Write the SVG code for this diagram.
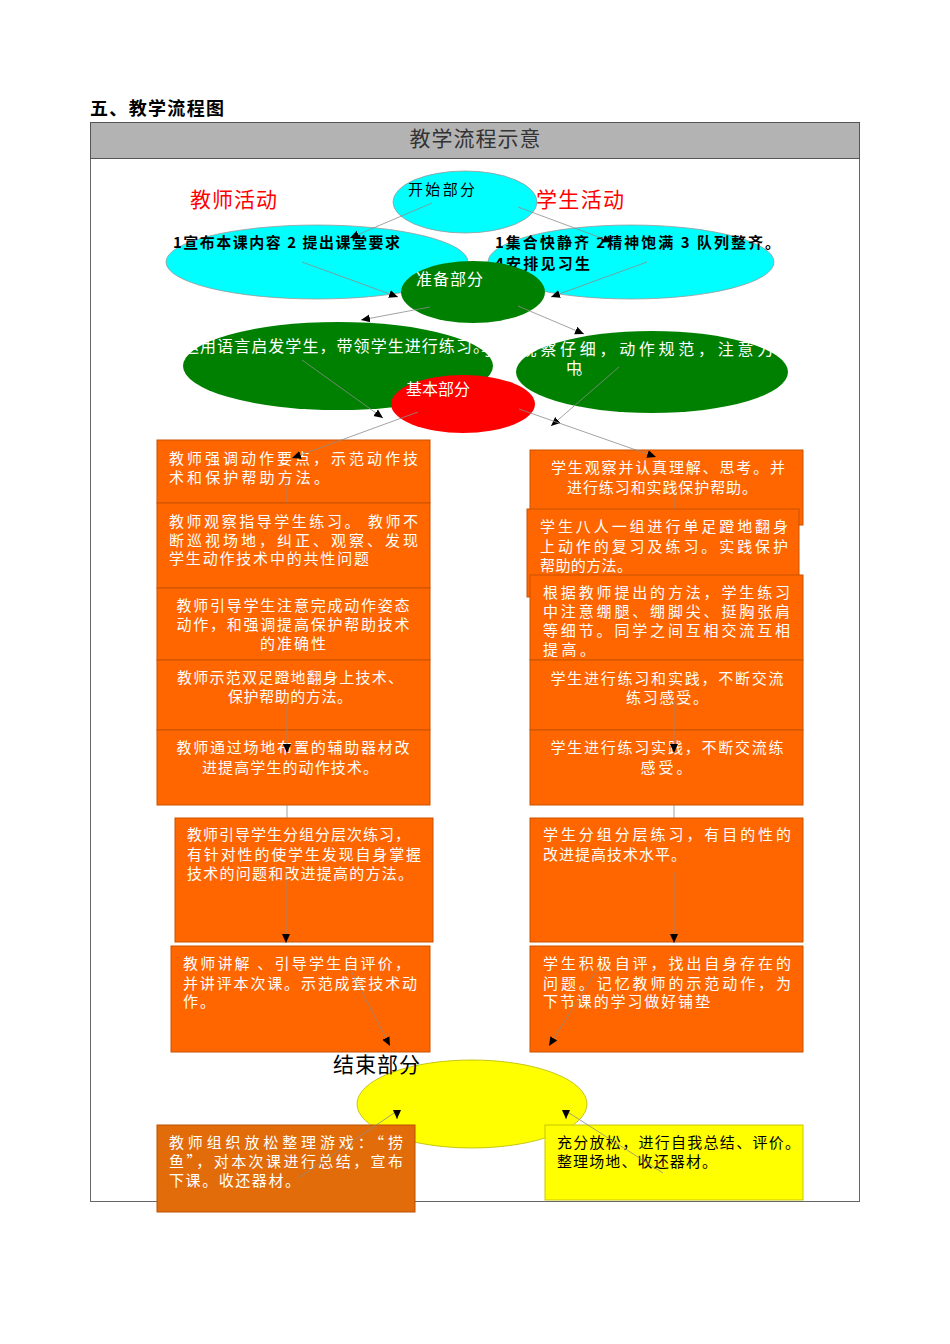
<svg xmlns="http://www.w3.org/2000/svg" width="950" height="1344" viewBox="0 0 950 1344">
<style>
text{font-family:"Noto Sans CJK SC","Liberation Sans",sans-serif;}
.box{fill:#ff6600;stroke:#c85200;stroke-width:1;}
.bt{fill:#ffffff;font-size:15px;}
.bc{fill:#ffffff;font-size:15px;text-anchor:middle;}
.kt{fill:#000000;font-size:15px;}
.lbl{fill:#ff0000;font-size:21px;}
.con{fill:none;stroke:#8c8c8c;stroke-width:0.8;marker-end:url(#ah);}
.seg{fill:none;stroke:#8c8c8c;stroke-width:0.8;}
</style>
<defs>
<marker id="ah" markerUnits="userSpaceOnUse" markerWidth="10" markerHeight="10" viewBox="0 0 10 10" refX="9" refY="5" orient="auto">
<path d="M0,1 L9,5 L0,9 Z" fill="#000"/>
</marker>
</defs>
<rect x="0" y="0" width="950" height="1344" fill="#ffffff"/>
<text x="90" y="115" font-size="18" font-weight="bold" fill="#000" textLength="134">五、教学流程图</text>
<g id="frame">
<rect x="90.5" y="122.5" width="769" height="1079" fill="#ffffff" stroke="#666" stroke-width="1"/>
<rect x="90.5" y="122.5" width="769" height="36" fill="#b3b3b3" stroke="#555" stroke-width="1"/>
<text x="475" y="146" font-size="21" fill="#333" text-anchor="middle" textLength="131">教学流程示意</text>
</g>
<g id="label-teacher"><text class="lbl" x="190" y="207" textLength="87">教师活动</text></g>
<g id="label-student"><text class="lbl" x="536" y="207" textLength="88">学生活动</text></g>
<g id="n-left-cyan">
<ellipse cx="317" cy="262" rx="151" ry="37" fill="#00ffff" stroke="#999" stroke-width="0.8"/>
<text class="kt" x="173" y="248" font-weight="bold" textLength="227">1宣布本课内容 2 提出课堂要求</text>
</g>
<g id="n-right-cyan">
<ellipse cx="631" cy="262" rx="143" ry="37" fill="#00ffff" stroke="#999" stroke-width="0.8"/>
<text class="kt" x="495" y="248" font-weight="bold" textLength="285">1集合快静齐 2精神饱满 3 队列整齐。</text>
<text class="kt" x="495" y="269" font-weight="bold" textLength="95">4安排见习生</text>
</g>
<g id="n-start">
<ellipse cx="465" cy="202" rx="72" ry="31" fill="#00ffff" stroke="#999" stroke-width="0.8"/>
<text class="kt" x="408" y="195" font-size="16" textLength="67">开始部分</text>
</g>
<g id="n-prep">
<ellipse cx="473" cy="292" rx="72" ry="31" fill="#008000"/>
<text x="416" y="285" font-size="16" fill="#fff" textLength="67">准备部分</text>
</g>
<g id="n-left-green">
<ellipse cx="338" cy="366" rx="155" ry="44" fill="#008000"/>
<text x="183" y="352" font-size="16" fill="#fff" textLength="306">运用语言启发学生，带领学生进行练习。</text>
</g>
<g id="n-right-green">
<ellipse cx="652" cy="372" rx="136" ry="41" fill="#008000"/>
<text x="481" y="355" font-size="16" fill="#fff" textLength="312">学生观察仔细，动作规范，注意力集</text>
<text x="566" y="374" font-size="16" fill="#fff" textLength="26">中。</text>
</g>
<g id="n-basic">
<ellipse cx="463" cy="404" rx="72" ry="29" fill="#ff0000"/>
<text x="406" y="395" font-size="16" fill="#fff" textLength="64">基本部分</text>
</g>
<g id="n-L1">
<rect class="box" x="157" y="440" width="273" height="63"/>
<text class="bt" x="169" y="464" textLength="249">教师强调动作要点，示范动作技</text>
<text class="bt" x="169" y="483" textLength="160">术和保护帮助方法。</text>
</g>
<g id="n-L2">
<rect class="box" x="157" y="503" width="273" height="85"/>
<text class="bt" x="169" y="527" textLength="249">教师观察指导学生练习。 教师不</text>
<text class="bt" x="169" y="546" textLength="249">断巡视场地，纠正、观察、发现</text>
<text class="bt" x="169" y="564" textLength="200">学生动作技术中的共性问题</text>
</g>
<g id="n-L3">
<rect class="box" x="157" y="588" width="273" height="72"/>
<text class="bc" x="293" y="611" textLength="233">教师引导学生注意完成动作姿态</text>
<text class="bc" x="293" y="630" textLength="233">动作，和强调提高保护帮助技术</text>
<text class="bc" x="293" y="649" textLength="66">的准确性</text>
</g>
<g id="n-L4">
<rect class="box" x="157" y="660" width="273" height="70"/>
<text class="bc" x="290" y="683" textLength="226">教师示范双足蹬地翻身上技术、</text>
<text class="bc" x="290" y="702" textLength="124">保护帮助的方法。</text>
</g>
<g id="n-L5">
<rect class="box" x="157" y="730" width="273" height="75"/>
<text class="bc" x="293" y="753" textLength="233">教师通过场地布置的辅助器材改</text>
<text class="bc" x="290" y="773" textLength="176">进提高学生的动作技术。</text>
</g>
<g id="n-L6">
<rect class="box" x="175" y="818" width="258" height="124"/>
<text class="bt" x="187" y="840" textLength="223">教师引导学生分组分层次练习，</text>
<text class="bt" x="187" y="860" textLength="234">有针对性的使学生发现自身掌握</text>
<text class="bt" x="187" y="879" textLength="226">技术的问题和改进提高的方法。</text>
</g>
<g id="n-L7">
<rect class="box" x="171" y="946" width="259" height="106"/>
<text class="bt" x="183" y="969" textLength="227">教师讲解 、引导学生自评价，</text>
<text class="bt" x="183" y="989" textLength="234">并讲评本次课。示范成套技术动</text>
<text class="bt" x="183" y="1007" textLength="32">作。</text>
</g>
<g id="n-R1">
<rect class="box" x="530" y="450" width="273" height="75"/>
<text class="bc" x="668" y="473" textLength="234">学生观察并认真理解、思考。并</text>
<text class="bc" x="662" y="493" textLength="190">进行练习和实践保护帮助。</text>
</g>
<g id="n-R2">
<rect class="box" x="527" y="509" width="272" height="88"/>
<text class="bt" x="540" y="532" textLength="248">学生八人一组进行单足蹬地翻身</text>
<text class="bt" x="540" y="552" textLength="248">上动作的复习及练习。实践保护</text>
<text class="bt" x="540" y="571" textLength="92">帮助的方法。</text>
</g>
<g id="n-R3">
<rect class="box" x="530" y="575" width="273" height="85"/>
<text class="bt" x="543" y="598" textLength="247">根据教师提出的方法，学生练习</text>
<text class="bt" x="543" y="617" textLength="247">中注意绷腿、绷脚尖、挺胸张肩</text>
<text class="bt" x="543" y="636" textLength="247">等细节。同学之间互相交流互相</text>
<text class="bt" x="543" y="655" textLength="52">提高。</text>
</g>
<g id="n-R4">
<rect class="box" x="530" y="660" width="273" height="70"/>
<text class="bc" x="667" y="684" textLength="233">学生进行练习和实践，不断交流</text>
<text class="bc" x="667" y="703" textLength="82">练习感受。</text>
</g>
<g id="n-R5">
<rect class="box" x="530" y="730" width="273" height="75"/>
<text class="bc" x="667" y="753" textLength="233">学生进行练习实践，不断交流练</text>
<text class="bc" x="666" y="773" textLength="51">感受。</text>
</g>
<g id="n-R6">
<rect class="box" x="530" y="818" width="273" height="124"/>
<text class="bt" x="543" y="840" textLength="248">学生分组分层练习，有目的性的</text>
<text class="bt" x="543" y="860" textLength="143">改进提高技术水平。</text>
</g>
<g id="n-R7">
<rect class="box" x="530" y="946" width="273" height="106"/>
<text class="bt" x="543" y="969" textLength="248">学生积极自评，找出自身存在的</text>
<text class="bt" x="543" y="989" textLength="248">问题。记忆教师的示范动作，为</text>
<text class="bt" x="543" y="1007" textLength="167">下节课的学习做好铺垫</text>
</g>
<g id="n-end">
<ellipse cx="472" cy="1104" rx="115" ry="44" fill="#ffff00" stroke="#b8b800" stroke-width="0.8"/>
<text x="333" y="1072" font-size="21" fill="#000" textLength="87">结束部分</text>
</g>
<g id="n-L8">
<rect x="157" y="1125" width="258" height="87" fill="#e36c0a" stroke="#b85000" stroke-width="1"/>
<text class="bt" x="169" y="1148" textLength="234">教师组织放松整理游戏：“捞</text>
<text class="bt" x="169" y="1167" textLength="234">鱼”，对本次课进行总结，宣布</text>
<text class="bt" x="169" y="1186" textLength="131">下课。收还器材。</text>
</g>
<g id="n-R8">
<rect x="545" y="1125" width="258" height="75" fill="#ffff00" stroke="#c8c800" stroke-width="1"/>
<text class="kt" x="557" y="1148" textLength="243">充分放松，进行自我总结、评价。</text>
<text class="kt" x="557" y="1167" textLength="160">整理场地、收还器材。</text>
</g>
<g id="connectors">
<path class="con" d="M432,203 L350,238"/>
<path class="con" d="M518,207 L612,242"/>
<path class="con" d="M302,262 L398,297"/>
<path class="con" d="M647,262 L551,297"/>
<path class="con" d="M430,307 L361,320"/>
<path class="con" d="M518,306 L584,334"/>
<path class="con" d="M302,360 L383,418"/>
<path class="con" d="M619,367 L551,426"/>
<path class="con" d="M418,412 L292,458"/>
<path class="con" d="M519,409 L656,457"/>
<path class="seg" d="M287,478 L287,503"/>
<path class="con" d="M287,700 L287,753"/>
<path class="seg" d="M287,805 L287,818"/>
<path class="con" d="M286,868 L286,943"/>
<path class="seg" d="M674,495 L674,509"/>
<path class="con" d="M674,700 L674,753"/>
<path class="seg" d="M674,805 L674,818"/>
<path class="con" d="M674,872 L674,943"/>
<path class="con" d="M348,965 L390,1046"/>
<path class="con" d="M599,967 L549,1046"/>
<path class="con" d="M300,1177 L397,1111 L397,1119"/>
<path class="con" d="M663,1173 L566,1111 L566,1119"/>
</g>
</svg>
